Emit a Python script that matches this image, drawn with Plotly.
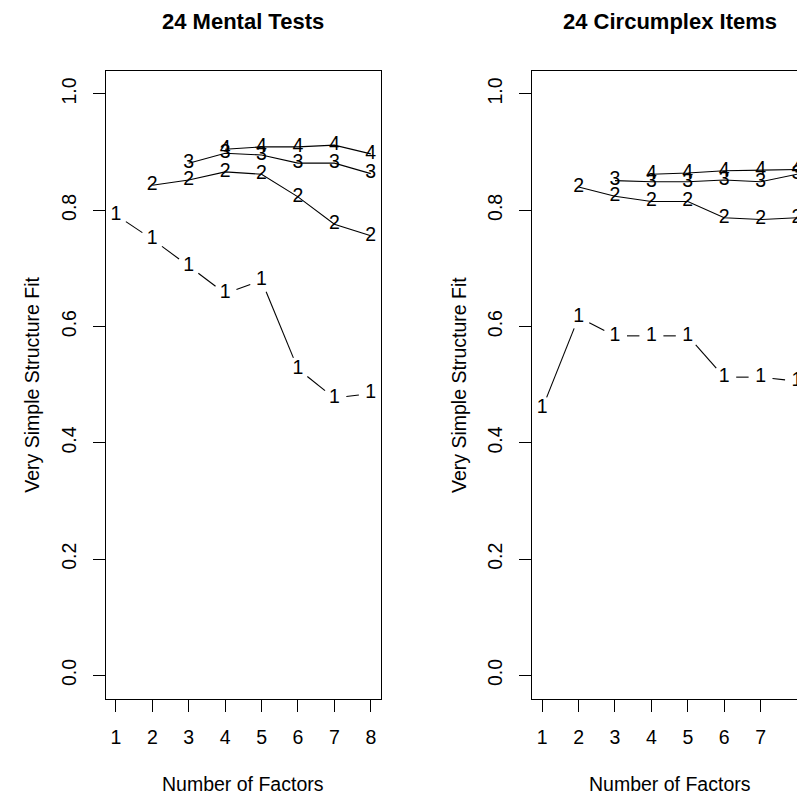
import math
import plotly.graph_objects as go

# ---------------- data ----------------
factors = [1, 2, 3, 4, 5, 6, 7, 8]
x_ticks = [1, 2, 3, 4, 5, 6, 7, 8]
y_ticks = [0.0, 0.2, 0.4, 0.6, 0.8, 1.0]

mental_1 = [0.792, 0.750, 0.704, 0.657, 0.679, 0.527, 0.477, 0.485]
mental_2 = [None, 0.843, 0.852, 0.866, 0.862, 0.823, 0.776, 0.756]
mental_3 = [None, None, 0.881, 0.898, 0.895, 0.881, 0.881, 0.863]
mental_4 = [None, None, None, 0.905, 0.909, 0.909, 0.912, 0.897]

circ_1 = [0.459, 0.616, 0.584, 0.584, 0.584, 0.513, 0.513, 0.506]
circ_2 = [None, 0.840, 0.824, 0.815, 0.815, 0.787, 0.784, 0.787]
circ_3 = [None, None, 0.851, 0.849, 0.849, 0.852, 0.849, 0.862]
circ_4 = [None, None, None, 0.862, 0.864, 0.868, 0.869, 0.870]

titles = ["24 Mental Tests", "24 Circumplex Items"]
x_title = "Number of Factors"
y_title = "Very Simple Structure Fit"

# ---------------- layout geometry ----------------
W = H = 797
FONT = "Liberation Sans, Arial, Helvetica, sans-serif"
FS = 19.5
box_top, box_bot = 70.7, 698.7
left_l, left_r = 105.7, 381.0
right_l, right_r = 532.0, 797.0
x_range_left = [0.72, 8.28]
x_range_right = [0.72, 8.0]
y_range = [-0.04, 1.04]

sx_left = (left_r - left_l) / (x_range_left[1] - x_range_left[0])
sx_right = (right_r - right_l) / (x_range_right[1] - x_range_right[0])
sy = (box_bot - box_top) / (y_range[1] - y_range[0])


def gapped(xs, ys, sx, sy, g=12.0):
    X, Y = [], []
    for i in range(len(xs) - 1):
        ddx = xs[i + 1] - xs[i]
        ddy = ys[i + 1] - ys[i]
        L = math.hypot(ddx * sx, ddy * sy)
        if L <= 2 * g:
            continue
        f = g / L
        X += [xs[i] + ddx * f, xs[i + 1] - ddx * f, None]
        Y += [ys[i] + ddy * f, ys[i + 1] - ddy * f, None]
    return X, Y


fig = go.Figure()

panels = [
    ("x", "y", [mental_1, mental_2, mental_3, mental_4], sx_left),
    ("x2", "y2", [circ_1, circ_2, circ_3, circ_4], sx_right),
]
line_w = 1.1
for xa, ya, series, sxp in panels:
    # series 1: type "b" style with gaps around the digits
    gx, gy = gapped(factors, series[0], sxp, sy)
    fig.add_trace(go.Scatter(x=gx, y=gy, mode="lines", xaxis=xa, yaxis=ya,
                             line=dict(color="black", width=line_w),
                             showlegend=False, hoverinfo="skip"))
    # series 2-4: continuous lines
    for s in series[1:]:
        fig.add_trace(go.Scatter(x=factors, y=s, mode="lines", xaxis=xa, yaxis=ya,
                                 line=dict(color="black", width=line_w),
                                 connectgaps=False,
                                 showlegend=False, hoverinfo="skip"))
    # digit markers
    for k, s in enumerate(series, start=1):
        xs = [f for f, v in zip(factors, s) if v is not None]
        vs = [v for v in s if v is not None]
        fig.add_trace(go.Scatter(x=xs, y=vs, mode="text", text=[str(k)] * len(xs),
                                 textposition="middle center", xaxis=xa, yaxis=ya,
                                 textfont=dict(family=FONT, size=FS, color="black"),
                                 showlegend=False, hoverinfo="skip", cliponaxis=True))

axis_common = dict(showgrid=False, zeroline=False, showline=True, linecolor="black",
                   linewidth=1.3, ticks="outside", ticklen=12, tickwidth=1.3,
                   tickcolor="black",
                   tickfont=dict(family=FONT, size=FS, color="black"))

fig.update_layout(
    width=W, height=H,
    margin=dict(l=0, r=0, t=0, b=0),
    paper_bgcolor="white", plot_bgcolor="white",
    xaxis=dict(domain=[left_l / W, left_r / W], range=x_range_left,
               tickvals=x_ticks, mirror=True, anchor="y", ticklabelstandoff=9,
               **axis_common),
    yaxis=dict(domain=[1 - box_bot / H, 1 - box_top / H], range=y_range,
               tickvals=y_ticks, tickformat=".1f", tickangle=-90, mirror=True,
               anchor="x", ticklabelstandoff=9, **axis_common),
    xaxis2=dict(domain=[right_l / W, 1.0], range=x_range_right,
                tickvals=x_ticks, mirror=True, anchor="y2", ticklabelstandoff=9,
                **axis_common),
    yaxis2=dict(domain=[1 - box_bot / H, 1 - box_top / H], range=y_range,
                tickvals=y_ticks, tickformat=".1f", tickangle=-90, mirror=False,
                anchor="x2", ticklabelstandoff=9, **axis_common),
)

centers = [(left_l + left_r) / 2, (right_l + 807.3) / 2]
ylab_x = [32.0, 32.0 + (right_l - left_l)]
annotations = []
for i in range(2):
    annotations.append(dict(text=f"<b>{titles[i]}</b>", x=centers[i] / W, y=1 - 21 / H,
                            xref="paper", yref="paper", showarrow=False,
                            xanchor="center", yanchor="middle",
                            font=dict(family=FONT, size=22, color="black")))
    annotations.append(dict(text=x_title, x=centers[i] / W, y=1 - 784 / H,
                            xref="paper", yref="paper", showarrow=False,
                            xanchor="center", yanchor="middle",
                            font=dict(family=FONT, size=FS, color="black")))
    annotations.append(dict(text=y_title, x=ylab_x[i] / W, y=1 - (box_top + box_bot) / 2 / H,
                            xref="paper", yref="paper", showarrow=False, textangle=-90,
                            xanchor="center", yanchor="middle",
                            font=dict(family=FONT, size=FS, color="black")))
fig.update_layout(annotations=annotations)

fig.write_html("out.html")
